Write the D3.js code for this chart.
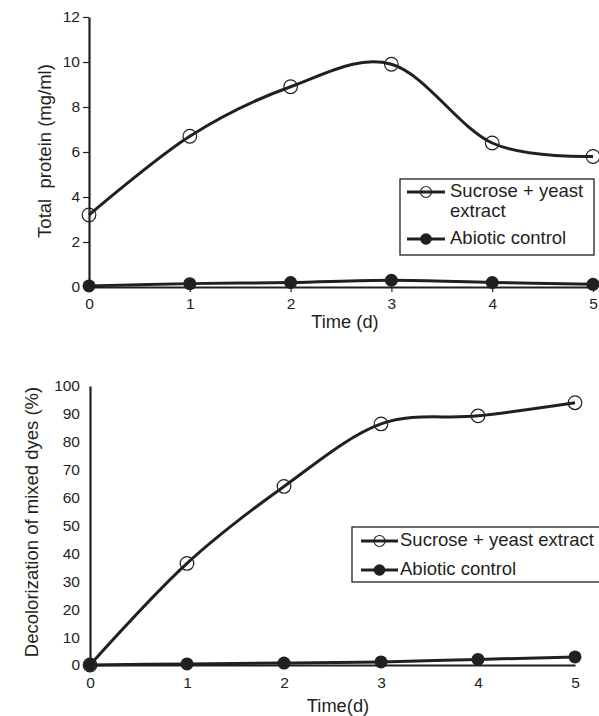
<!DOCTYPE html>
<html>
<head>
<meta charset="utf-8">
<script src="https://cdn.jsdelivr.net/npm/d3@7/dist/d3.min.js"></script>
<style>
  html, body { margin: 0; padding: 0; background: #fff; }
  svg { display: block; font-family: "Liberation Sans", Arial, sans-serif; }
</style>
</head>
<body>
<div id="chart"></div>
<script>
const days = [0, 1, 2, 3, 4, 5]
const proteinSucrose = [3.2, 6.7, 8.9, 9.9, 6.4, 5.8]
const proteinControl = [0.05, 0.15, 0.2, 0.3, 0.2, 0.12]
const decolSucrose = [0, 36.4, 64, 86.4, 89.3, 94]
const decolControl = [0, 0.4, 0.7, 1.1, 2.0, 2.9]
const proteinTicks = [0, 2, 4, 6, 8, 10, 12]
const decolTicks = [0, 10, 20, 30, 40, 50, 60, 70, 80, 90, 100]
const seriesNames = ["Sucrose + yeast extract", "Abiotic control"]

const INK = "#231f20"
const W = 599, H = 716

const svg = d3.select("#chart").append("svg")
  .attr("width", W).attr("height", H)
  .attr("viewBox", `0 0 ${W} ${H}`)

// Courbe lissée façon tableur (Catmull-Rom uniforme)
const smooth = d3.curveCardinal.tension(0)

function drawPanel(opt) {
  const x = d3.scaleLinear().domain([0, 5]).range(opt.xRange)
  const y = d3.scaleLinear().domain(opt.yDomain).range(opt.yRange)
  const g = svg.append("g")

  // Axe X
  const ax = g.append("g")
    .attr("transform", `translate(0,${opt.yRange[0]})`)
    .call(d3.axisBottom(x).tickValues(days).tickFormat(d3.format("d"))
      .tickSize(opt.xTick).tickSizeOuter(0).tickPadding(opt.xPad))
  ax.select(".domain").attr("stroke", INK).attr("stroke-width", 2.2)
  ax.selectAll(".tick line").attr("stroke", INK).attr("stroke-width", 1.2)
  ax.selectAll(".tick text").attr("fill", INK).attr("font-size", 15.5)
    .attr("font-family", "Liberation Sans, Arial, sans-serif")

  // Axe Y
  const ay = g.append("g")
    .attr("transform", `translate(${opt.xRange[0]},0)`)
    .call(d3.axisLeft(y).tickValues(opt.yTicks)
      .tickSize(opt.yTick).tickSizeOuter(0).tickPadding(opt.yPad))
  ay.select(".domain").attr("stroke", INK).attr("stroke-width", 2.2)
  ay.selectAll(".tick line").attr("stroke", INK).attr("stroke-width", 1.2)
  ay.selectAll(".tick text").attr("fill", INK).attr("font-size", 15.5)
    .attr("font-family", "Liberation Sans, Arial, sans-serif")

  // Titres d'axes
  g.append("text")
    .attr("x", opt.xTitle[0]).attr("y", opt.xTitle[1])
    .attr("text-anchor", "middle").attr("dominant-baseline", "middle")
    .attr("fill", INK).attr("font-size", 18.3)
    .text(opt.xLabel)
  g.append("text")
    .attr("transform", `translate(${opt.yTitle[0]},${opt.yTitle[1]}) rotate(-90)`)
    .attr("text-anchor", "middle").attr("dominant-baseline", "middle")
    .attr("fill", INK).attr("font-size", 18.5)
    .style("white-space", "pre")
    .text(opt.yLabel)

  const line = d3.line()
    .x((d, i) => x(days[i]))
    .y((d) => y(d))
    .curve(smooth)

  // Saccharose + extrait de levure (cercles vides, la courbe les traverse)
  g.append("path").datum(opt.sucrose)
    .attr("d", line).attr("fill", "none")
    .attr("stroke", INK).attr("stroke-width", 3)
  g.selectAll("circle.suc").data(opt.sucrose).join("circle")
    .attr("class", "suc")
    .attr("cx", (d, i) => x(days[i])).attr("cy", (d) => y(d))
    .attr("r", 6.8).attr("fill", "none")
    .attr("stroke", INK).attr("stroke-width", 1.2)

  // Témoin abiotique (points pleins, dessinés par-dessus)
  g.append("path").datum(opt.control)
    .attr("d", line).attr("fill", "none")
    .attr("stroke", INK).attr("stroke-width", 3)
  g.selectAll("circle.ctl").data(opt.control).join("circle")
    .attr("class", "ctl")
    .attr("cx", (d, i) => x(days[i])).attr("cy", (d) => y(d))
    .attr("r", 6.5).attr("fill", INK)

  // Légende
  const L = opt.legend
  const lg = g.append("g")
  lg.append("rect")
    .attr("x", L.x).attr("y", L.y).attr("width", L.w).attr("height", L.h)
    .attr("fill", "#fff").attr("stroke", INK).attr("stroke-width", 1.3)

  L.rows.forEach((r, k) => {
    lg.append("line")
      .attr("x1", L.lx0).attr("x2", L.lx1).attr("y1", r.y).attr("y2", r.y)
      .attr("stroke", INK).attr("stroke-width", 3)
    lg.append("circle")
      .attr("cx", (L.lx0 + L.lx1) / 2).attr("cy", r.y).attr("r", k === 0 ? 5.5 : 5.2)
      .attr("fill", k === 0 ? "none" : INK)
      .attr("stroke", INK).attr("stroke-width", 1.2)
    r.text.forEach((t, j) => {
      lg.append("text")
        .attr("x", L.tx).attr("y", r.y + j * L.lineGap)
        .attr("dominant-baseline", "middle")
        .attr("fill", INK).attr("font-size", 18.5)
        .text(t)
    })
  })
}

drawPanel({
  xRange: [89, 593], yRange: [287, 17], yDomain: [0, 12], yTicks: proteinTicks,
  xTick: 5, xPad: 6, yTick: 6, yPad: 3,
  xLabel: "Time (d)", xTitle: [345, 323],
  yLabel: "Total  protein (mg/ml)", yTitle: [46, 151],
  sucrose: proteinSucrose, control: proteinControl,
  legend: {
    x: 400, y: 179, w: 194, h: 76, lx0: 407, lx1: 445, tx: 450, lineGap: 20,
    rows: [
      { y: 192, text: ["Sucrose + yeast", "extract"] },
      { y: 239, text: [seriesNames[1]] },
    ],
  },
})

drawPanel({
  xRange: [90, 575], yRange: [665, 386], yDomain: [0, 100], yTicks: decolTicks,
  xTick: 0, xPad: 12, yTick: 0, yPad: 10,
  xLabel: "Time(d)", xTitle: [338, 707],
  yLabel: "Decolorization of mixed dyes (%)", yTitle: [33, 522],
  sucrose: decolSucrose, control: decolControl,
  legend: {
    x: 352, y: 527, w: 252, h: 55, lx0: 361, lx1: 398, tx: 400, lineGap: 0,
    rows: [
      { y: 541, text: [seriesNames[0]] },
      { y: 570, text: [seriesNames[1]] },
    ],
  },
})
</script>
</body>
</html>
